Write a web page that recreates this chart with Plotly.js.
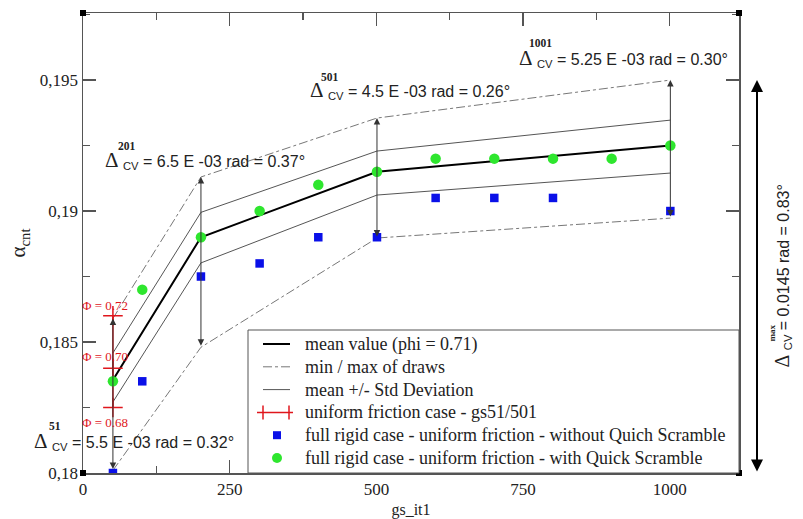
<!DOCTYPE html>
<html><head><meta charset="utf-8">
<script src="https://cdn.plot.ly/plotly-3.0.1.min.js"></script>
<style>html,body{margin:0;padding:0;background:#fff}</style>
</head><body><div id="chart" style="width:803px;height:519px"></div>
<script>
// ---- data ----
const gsDraws   = [51, 201, 501, 1001];
const meanVal   = [0.18355, 0.1890, 0.1915, 0.1925];
const stdUpper  = [0.18458, 0.18995, 0.19229, 0.19347];
const stdLower  = [0.18271, 0.18802, 0.19061, 0.19145];
const drawMax   = [0.1859, 0.1913, 0.19355, 0.1950];
const drawMin   = [0.1801, 0.1848, 0.18897, 0.18973];
const uniformX  = [51, 51, 51];
const uniformY  = [0.1825, 0.1840, 0.1860];
const uniformPhi = ['Φ = 0.68', 'Φ = 0.70', 'Φ = 0.72'];
const rigidX    = [51, 101, 201, 301, 401, 501, 601, 701, 801, 1001];
const rigidNoQS = [0.1800, 0.1835, 0.1875, 0.1880, 0.1890, 0.1890, 0.1905, 0.1905, 0.1905, 0.1900];
const qsX       = [51, 101, 201, 301, 401, 501, 601, 701, 801, 901, 1001];
const rigidQS   = [0.1835, 0.1870, 0.1890, 0.1900, 0.1910, 0.1915, 0.1920, 0.1920, 0.1920, 0.1920, 0.1925];
const deltaSup  = ['51', '201', '501', '1001'];
const deltaText = ['5.5 E -03 rad = 0.32°', '6.5 E -03 rad = 0.37°', '4.5 E -03 rad = 0.26°', '5.25 E -03 rad = 0.30°'];
const deltaMaxText = '0.0145 rad = 0.83°';
const yTickVals = [0.18, 0.185, 0.19, 0.195];
const yTickText = ['0,18', '0,185', '0,19', '0,195'];
const xTickVals = [0, 250, 500, 750, 1000];
const legendNames = ['mean value (phi = 0.71)', 'min / max of draws', 'mean +/- Std Deviation',
  'uniform friction case - gs51/501', 'full rigid case - uniform friction - without Quich Scramble',
  'full rigid case - uniform friction - with Quick Scramble'];

// ---- layout helpers ----
const W = 803, H = 519, L = 83, R = 739, T = 13, B = 473;
const px = x => (x - L) / (R - L);
const py = y => (B - y) / (B - T);
const serif = 'Liberation Serif, Times New Roman, serif';
const sans = 'Liberation Sans, Arial, sans-serif';
const grey = '#555';
const red = '#e0161c', blue = '#0a10e8', green = '#2ee62e';

const traces = [
  {x: gsDraws, y: meanVal, mode: 'lines', name: legendNames[0], line: {color: '#000', width: 2}},
  {x: gsDraws, y: drawMax, mode: 'lines', name: legendNames[1], line: {color: '#777', width: 1, dash: 'dashdot'}},
  {x: gsDraws, y: drawMin, mode: 'lines', name: legendNames[1], line: {color: '#777', width: 1, dash: 'dashdot'}},
  {x: gsDraws, y: stdUpper, mode: 'lines', name: legendNames[2], line: {color: '#555', width: 1}},
  {x: gsDraws, y: stdLower, mode: 'lines', name: legendNames[2], line: {color: '#555', width: 1}},
  {x: uniformX, y: uniformY, mode: 'lines+markers', name: legendNames[3],
   line: {color: red, width: 1.5}, marker: {symbol: 'cross-thin-open', size: 14, line: {color: red, width: 1.5}}},
  {x: rigidX, y: rigidNoQS, mode: 'markers', name: legendNames[4], marker: {symbol: 'square', size: 8.5, color: blue}},
  {x: qsX, y: rigidQS, mode: 'markers', name: legendNames[5], marker: {symbol: 'circle', size: 10.5, color: green}}
];

const annotations = [];
// vertical double arrows between min and max of draws
gsDraws.forEach((g, i) => {
  annotations.push({x: g, y: drawMax[i], ax: g, ay: drawMin[i], xref: 'x', yref: 'y', axref: 'x', ayref: 'y',
    text: '', showarrow: true, arrowside: 'end+start', arrowhead: 2, arrowsize: 1.3, arrowwidth: 1, arrowcolor: '#333', standoff: 0, startstandoff: 0});
});
// delta labels
const deltaPos = [[32, 441, 55, 426], [103, 160, 127, 146], [308, 90, 330, 77], [517, 58, 540, 43]];
deltaPos.forEach((p, i) => {
  annotations.push({xref: 'paper', yref: 'paper', x: px(p[0]), y: py(p[1]), xanchor: 'left', yanchor: 'middle', showarrow: false,
    text: '<span style="font-family:Liberation Serif;font-size:21px">Δ</span> <sub>CV</sub> = ' + deltaText[i], font: {family: sans, size: 16, color: '#222'}});
  annotations.push({xref: 'paper', yref: 'paper', x: px(p[2]), y: py(p[3]), xanchor: 'center', yanchor: 'middle', showarrow: false,
    text: '<b>' + deltaSup[i] + '</b>', font: {family: serif, size: 11.5, color: '#222'}});
});
// Phi labels
const phiShift = [-15, 12, 10];
uniformY.forEach((v, i) => {
  annotations.push({x: uniformX[i], y: v, xref: 'x', yref: 'y', xshift: -8, yshift: phiShift[i], showarrow: false,
    text: uniformPhi[i], font: {family: serif, size: 13, color: red}});
});
// big max arrow outside the plot
annotations.push({xref: 'paper', yref: 'y', x: px(757), y: drawMax[3], axref: 'pixel', ayref: 'y', ax: 0, ay: rigidNoQS[0],
  text: '', showarrow: true, arrowside: 'end+start', arrowhead: 2, arrowsize: 1.2, arrowwidth: 2, arrowcolor: '#000', standoff: 0, startstandoff: 0});
annotations.push({xref: 'paper', yref: 'paper', x: px(796), y: py(276), textangle: -90, showarrow: false,
  text: '<span style="font-family:Liberation Serif;font-size:20px">Δ</span> <sub>CV</sub> = ' + deltaMaxText, font: {family: sans, size: 16, color: '#222'}});
annotations.push({xref: 'paper', yref: 'paper', x: px(778), y: py(344), textangle: -90, showarrow: false,
  text: '<b>max</b>', font: {family: serif, size: 9, color: '#222'}});

// corner squares
const shapes = [[0, 0], [1, 0], [0, 1], [1, 1]].map(c => ({type: 'rect', xref: 'paper', yref: 'paper',
  xsizemode: 'pixel', ysizemode: 'pixel', xanchor: c[0], yanchor: c[1], x0: -3, x1: 3, y0: -3, y1: 3,
  fillcolor: '#000', line: {width: 0}}));

// legend (drawn as a boxed key)
const legX0 = 248, legY0 = 330, legRowY0 = 344, legRowDy = 22.8, legSym = 277, legText = 303;
shapes.push({type: 'rect', xref: 'paper', yref: 'paper', x0: px(legX0), x1: 1, y0: 0, y1: py(legY0),
  fillcolor: '#fff', line: {color: grey, width: 1}, layer: 'above'});
const rowY = i => py(legRowY0 + i * legRowDy);
const legLine = (i, color, width, dash) => shapes.push({type: 'line', xref: 'paper', yref: 'paper',
  x0: px(legSym - 14), x1: px(legSym + 13), y0: rowY(i), y1: rowY(i), line: {color: color, width: width, dash: dash}, layer: 'above'});
legLine(0, '#000', 2, 'solid');
legLine(1, '#777', 1, 'dashdot');
legLine(2, '#555', 1, 'solid');
shapes.push({type: 'line', xref: 'paper', yref: 'paper', x0: px(legSym - 20), x1: px(legSym + 16), y0: rowY(3), y1: rowY(3), line: {color: red, width: 1.5}, layer: 'above'});
[-14, 12].forEach(d => shapes.push({type: 'line', xref: 'paper', yref: 'paper', x0: px(legSym + d), x1: px(legSym + d),
  ysizemode: 'pixel', yanchor: rowY(3), y0: -7, y1: 7, line: {color: red, width: 1.5}, layer: 'above'}));
shapes.push({type: 'rect', xref: 'paper', yref: 'paper', xsizemode: 'pixel', ysizemode: 'pixel', xanchor: px(legSym), yanchor: rowY(4),
  x0: -4, x1: 4, y0: -4, y1: 4, fillcolor: blue, line: {width: 0}, layer: 'above'});
shapes.push({type: 'circle', xref: 'paper', yref: 'paper', xsizemode: 'pixel', ysizemode: 'pixel', xanchor: px(legSym), yanchor: rowY(5),
  x0: -5, x1: 5, y0: -5, y1: 5, fillcolor: green, line: {width: 0}, layer: 'above'});
legendNames.forEach((n, i) => annotations.push({xref: 'paper', yref: 'paper', x: px(legText), y: rowY(i),
  xanchor: 'left', yanchor: 'middle', showarrow: false, text: n, font: {family: serif, size: 18, color: '#222'}}));

const axisCommon = {showline: true, linecolor: grey, linewidth: 1.5, mirror: 'ticks', ticks: 'inside', ticklen: 13,
  tickcolor: grey, tickwidth: 1.2, showgrid: false, zeroline: false,
  tickfont: {family: serif, size: 17, color: '#222'}};

const layout = {
  width: W, height: H, margin: {l: L, r: W - R, t: T, b: H - B},
  paper_bgcolor: '#fff', plot_bgcolor: '#fff',
  showlegend: false, hovermode: false,
  xaxis: Object.assign({}, axisCommon, {range: [0, 1118], tickvals: xTickVals,
    minor: {ticks: 'inside', ticklen: 7, dtick: 125, tick0: 0, tickcolor: grey, showgrid: false},
    title: {text: 'gs_it1', font: {family: serif, size: 16, color: '#222'}, standoff: 6}}),
  yaxis: Object.assign({}, axisCommon, {range: [0.18, 0.19756], tickvals: yTickVals, ticktext: yTickText,
    minor: {ticks: 'inside', ticklen: 7, dtick: 0.0025, tick0: 0.18, tickcolor: grey, showgrid: false},
    title: {text: 'α<sub>cnt</sub>', font: {family: serif, size: 21, color: '#222'}, standoff: 8}}),
  annotations: annotations,
  shapes: shapes
};

Plotly.newPlot('chart', traces, layout, {displayModeBar: false, staticPlot: true});
</script></body></html>
